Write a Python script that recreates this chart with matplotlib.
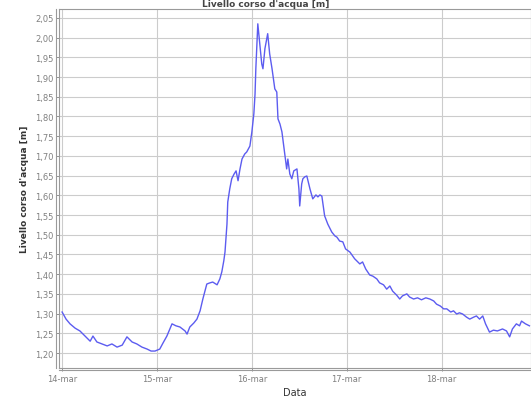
import datetime as dt
import matplotlib
matplotlib.use('Agg')
import matplotlib.pyplot as plt
import matplotlib.dates as mdates
from matplotlib.ticker import FuncFormatter, MultipleLocator

# hours after 14-mar 00:00 and water level [m]
hours = [0.0, 1.0, 2.0, 3.3, 4.5, 5.8, 7.1, 7.8, 8.8, 10.1, 11.4, 12.6, 13.9, 15.2,
         16.4, 17.7, 18.9, 20.2, 21.5, 22.5, 23.5, 24.7, 25.5, 26.5, 27.8, 28.8,
         29.8, 31.1, 31.6, 32.3, 33.3, 34.1, 34.9, 35.6, 36.6, 37.4, 38.1, 39.2,
         39.9, 40.4, 40.9, 41.2, 41.7, 41.9, 42.4, 42.9, 43.5, 44.0, 44.5, 45.0,
         45.5, 46.2, 46.7, 47.5, 48.0, 48.5, 48.8, 49.0, 49.5, 50.0, 50.5, 50.8,
         51.3, 52.0, 52.5, 53.1, 53.8, 54.3, 54.6, 55.1, 55.6, 56.3, 56.8, 57.1,
         57.6, 58.1, 58.6, 59.4, 59.9, 60.1, 60.6, 60.9, 61.4, 61.9, 62.7, 63.4,
         64.2, 64.7, 65.2, 65.7, 66.4, 67.2, 68.2, 69.0, 69.5, 70.2, 71.0, 71.7,
         72.8, 74.0, 75.3, 76.0, 76.8, 77.8, 78.6, 79.6, 80.3, 81.3, 82.1, 82.9,
         83.6, 84.6, 85.4, 86.1, 87.2, 87.9, 88.9, 89.9, 90.9, 92.0, 93.0, 94.0,
         94.7, 95.7, 96.5, 97.3, 98.3, 99.0, 99.8, 100.5, 101.3, 102.3, 103.1,
         104.1, 104.8, 105.6, 106.4, 107.1, 108.1, 109.1, 110.1, 111.4, 112.4,
         113.2, 113.9, 114.9, 115.7, 116.2, 117.2, 118.2]
level = [1.304, 1.286, 1.274, 1.263, 1.256, 1.243, 1.230, 1.243, 1.228, 1.223,
         1.218, 1.223, 1.215, 1.220, 1.241, 1.228, 1.223, 1.215, 1.210, 1.205,
         1.205, 1.210, 1.225, 1.243, 1.274, 1.269, 1.266, 1.256, 1.248, 1.266,
         1.276, 1.286, 1.307, 1.337, 1.375, 1.378, 1.380, 1.373, 1.388, 1.406,
         1.434, 1.456, 1.527, 1.583, 1.616, 1.642, 1.654, 1.662, 1.637, 1.667,
         1.692, 1.705, 1.710, 1.725, 1.761, 1.807, 1.857, 1.921, 2.035, 1.984,
         1.933, 1.921, 1.972, 2.010, 1.959, 1.921, 1.870, 1.862, 1.794, 1.781,
         1.761, 1.705, 1.667, 1.692, 1.654, 1.642, 1.662, 1.667, 1.616, 1.573,
         1.629, 1.642, 1.647, 1.649, 1.616, 1.591, 1.601, 1.596, 1.601, 1.598,
         1.548, 1.527, 1.507, 1.497, 1.494, 1.484, 1.482, 1.464, 1.456, 1.439,
         1.426, 1.431, 1.413, 1.398, 1.395, 1.388, 1.378, 1.373, 1.362, 1.370,
         1.357, 1.347, 1.337, 1.345, 1.350, 1.342, 1.337, 1.340, 1.335, 1.340,
         1.337, 1.332, 1.324, 1.319, 1.312, 1.312, 1.304, 1.307, 1.299, 1.302,
         1.299, 1.291, 1.286, 1.291, 1.294, 1.286, 1.294, 1.274, 1.253, 1.258,
         1.256, 1.261, 1.256, 1.241, 1.261, 1.274, 1.269, 1.281, 1.274, 1.269]

start = dt.datetime(2013, 3, 14)
mesi = ['gen', 'feb', 'mar', 'apr', 'mag', 'giu', 'lug', 'ago', 'set', 'ott', 'nov', 'dic']
title = "Livello corso d'acqua [m]"

times = [start + dt.timedelta(hours=h) for h in hours]

fig = plt.figure(figsize=(5.31, 4.10), dpi=100)
ax = fig.add_axes([0.111, 0.100, 0.889, 0.876])

ax.plot(times, level, color='#5c5cf0', lw=1.0)

ax.set_xlim(start - dt.timedelta(hours=0.8), start + dt.timedelta(hours=118.6))
ax.set_ylim(1.162, 2.073)

ax.xaxis.set_major_locator(mdates.DayLocator())
ax.xaxis.set_major_formatter(FuncFormatter(
    lambda v, p: '{}-{}'.format(mdates.num2date(v).day, mesi[mdates.num2date(v).month-1])))
ax.yaxis.set_major_locator(MultipleLocator(0.05))
ax.yaxis.set_major_formatter(FuncFormatter(lambda v, p: '{:.2f}'.format(v).replace('.', ',')))

ax.grid(True, color='#cccccc', lw=0.8)
for s in ax.spines.values():
  s.set_color('#9a9a9a')
  s.set_linewidth(0.8)
ax.tick_params(labelsize=6, colors='#808080', length=2, width=0.6, pad=2)

# separate axis lines a few pixels outside the plot box
ax.plot([-0.006, -0.006], [0, 1], transform=ax.transAxes, clip_on=False,
        color='#9a9a9a', lw=0.8)
ax.plot([0, 1], [-0.006, -0.006], transform=ax.transAxes, clip_on=False,
        color='#9a9a9a', lw=0.8)

ax.set_xlabel('Data', fontsize=7, color='#333333', labelpad=3)
ax.set_ylabel("Livello corso d'acqua [m]", fontsize=6.5, fontweight='bold',
              color='#333333', labelpad=4)

# title sits in the thin strip above the plot box
fig.text(0.5, 0.999, title, ha='center', va='top', fontsize=6.5,
         fontweight='bold', color='#444444')

fig.savefig('out.png', dpi=100)
